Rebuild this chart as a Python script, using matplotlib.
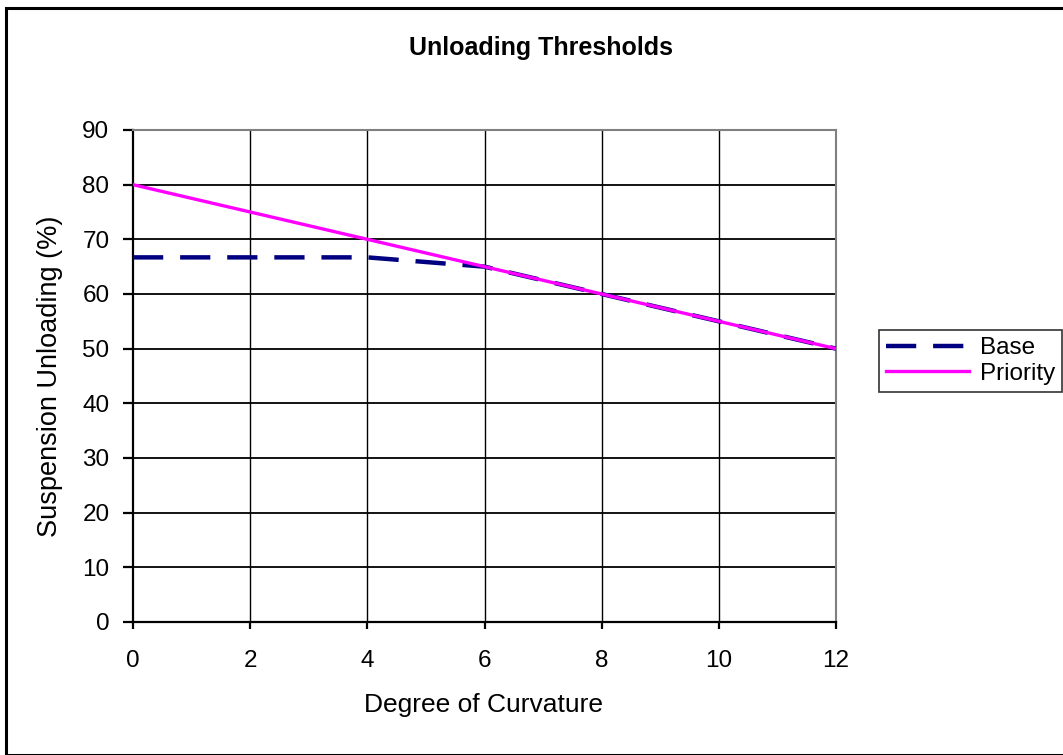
import matplotlib
matplotlib.use('Agg')
import matplotlib.pyplot as plt
from matplotlib.patches import Rectangle

plt.rcParams['font.family'] = ['Liberation Sans', 'DejaVu Sans']

# Données
curvature = [0, 2, 4, 6, 8, 10, 12]
base = [66.7, 66.7, 66.7, 65, 60, 55, 50]
priority = [80, 75, 70, 65, 60, 55, 50]
y_ticks = [0, 10, 20, 30, 40, 50, 60, 70, 80, 90]

FS = 17.5
fig = plt.figure(figsize=(10.63, 7.55), dpi=100)
W, H = 1063, 755

# Cadre extérieur du graphique
fig.patches.append(Rectangle((6 / W, 0), 1.0, 1 - 8 / H, transform=fig.transFigure,
                             fill=False, edgecolor='black', linewidth=2.2, clip_on=False))

ax = fig.add_axes([133 / W, 1 - 622 / H, (836 - 133) / W, (622 - 130) / H])

ax.set_xlim(0, 12)
ax.set_ylim(0, 90)
ax.set_xticks(curvature)
ax.set_yticks(y_ticks)

for v in y_ticks[1:-1]:
    ax.axhline(v, color='black', linewidth=1.3, zorder=1)
for v in curvature[1:-1]:
    ax.axvline(v, color='black', linewidth=1.0, zorder=1)

ax.plot(curvature, base, color='#000080', linewidth=3.2, dashes=(6.8, 3.8),
        label='Base', zorder=3)
ax.plot(curvature, priority, color='#FF00FF', linewidth=2.4, label='Priority', zorder=4)

for side in ['top', 'right']:
    ax.spines[side].set_color('#808080')
    ax.spines[side].set_linewidth(1.5)
for side in ['left', 'bottom']:
    ax.spines[side].set_color('black')
    ax.spines[side].set_linewidth(1.6)

ax.tick_params(axis='both', direction='out', width=1.6, labelsize=FS)
ax.tick_params(axis='y', length=7, pad=10)
ax.tick_params(axis='x', length=5, pad=15)

# Titres et libellés des axes
fig.text(541 / W, 1 - 48 / H, 'Unloading Thresholds', fontsize=18, fontweight='bold',
         ha='center', va='center')
fig.text(484 / W, 1 - 705 / H, 'Degree of Curvature', fontsize=19,
         ha='center', va='center')
fig.text(50 / W, 1 - 376 / H, 'Suspension Unloading (%)', fontsize=19.5,
         rotation=90, ha='center', va='center')

leg = fig.legend(loc='upper left', bbox_to_anchor=(879 / W, 1 - 330 / H),
                 fontsize=FS, frameon=True, fancybox=False, shadow=False,
                 handlelength=3.4, borderpad=0.3, labelspacing=0.15,
                 handletextpad=0.45, borderaxespad=0)
leg.get_frame().set_edgecolor('black')
leg.get_frame().set_linewidth(1.2)

plt.savefig('out.png', dpi=100)
